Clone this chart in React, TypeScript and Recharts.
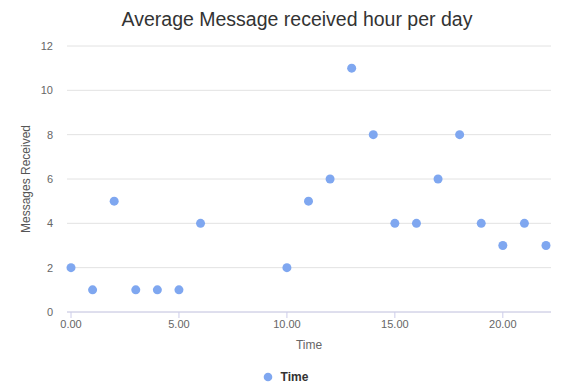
import {
  ScatterChart,
  Scatter,
  XAxis,
  YAxis,
  CartesianGrid,
  Legend,
} from "recharts";

const hours = [0, 1, 2, 3, 4, 5, 6, 10, 11, 12, 13, 14, 15, 16, 17, 18, 19, 20, 21, 22];
const messages = [2, 1, 5, 1, 1, 1, 4, 2, 5, 6, 11, 8, 4, 4, 6, 8, 4, 3, 4, 3];
const xTicks = [0, 5, 10, 15, 20];
const yTicks = [0, 2, 4, 6, 8, 10, 12];

const data = hours.map((h, i) => ({ hour: h, count: messages[i] }));

const DOT = "#7fa7f0";
const FONT = "'Liberation Sans', Arial, sans-serif";

const Dot = (props: any) => (
  <circle cx={props.cx} cy={props.cy} r={4.5} fill={DOT} />
);

const LegendContent = () => (
  <div
    style={{
      height: 24,
      display: "flex",
      alignItems: "center",
      justifyContent: "center",
      fontFamily: FONT,
      fontSize: 12,
      fontWeight: "bold",
      color: "#333",
    }}
  >
    <svg width={10} height={10} style={{ marginRight: 8 }}>
      <circle cx={5} cy={5} r={4.3} fill={DOT} />
    </svg>
    Time
  </div>
);

export default function App() {
  return (
    <div style={{ position: "relative", width: 585, height: 389, margin: "-8px 0 0 -8px", background: "#fff" }}>
      <div
        style={{
          position: "absolute",
          top: 8,
          left: 0,
          width: 594,
          textAlign: "center",
          fontFamily: FONT,
          fontSize: 19.5,
          color: "#333",
        }}
      >
        Average Message received hour per day
      </div>
      <ScatterChart
        width={585}
        height={389}
        margin={{ top: 46, right: 34, bottom: 0, left: 20 }}
        style={{ fontFamily: FONT }}
      >
        <CartesianGrid horizontal vertical={false} stroke="#e2e2e2" />
        <XAxis
          type="number"
          dataKey="hour"
          domain={[0, 22]}
          ticks={xTicks}
          tickFormatter={(v: number) => v.toFixed(2)}
          padding={{ left: 4, right: 5 }}
          height={53}
          stroke="#ccccea"
          tick={{ fill: "#666", fontSize: 11 }}
          label={{ value: "Time", position: "insideBottom", offset: 16, fill: "#666", fontSize: 12 }}
        />
        <YAxis
          type="number"
          dataKey="count"
          domain={[0, 12]}
          ticks={yTicks}
          width={47}
          axisLine={false}
          tickLine={false}
          tickMargin={8}
          tick={{ fill: "#666", fontSize: 11 }}
          label={{
            value: "Messages Received",
            angle: -90,
            position: "insideLeft",
            offset: 6,
            fill: "#555",
            fontSize: 12,
            style: { textAnchor: "middle" },
          }}
        />
        <Legend verticalAlign="bottom" height={24} content={<LegendContent />} />
        <Scatter name="Time" data={data} fill={DOT} shape={<Dot />} isAnimationActive={false} />
      </ScatterChart>
    </div>
  );
}
